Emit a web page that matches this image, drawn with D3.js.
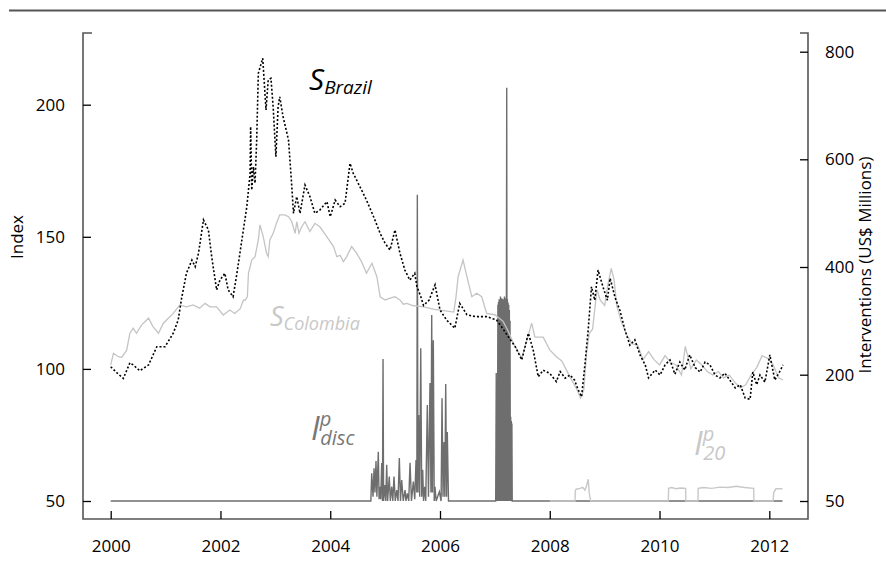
<!DOCTYPE html>
<html><head><meta charset="utf-8">
<script src="https://cdn.jsdelivr.net/npm/d3@7/dist/d3.min.js"></script>
<style>
body{margin:0;background:#fff;}
svg{display:block;font-family:"Open Sans","Noto Sans",sans-serif;}
</style></head>
<body><svg id="c" width="886" height="565"></svg>
<script>
// ---------------- data ----------------
const xTickValues = [2000, 2002, 2004, 2006, 2008, 2010, 2012];
const leftTickValues = [50, 100, 150, 200];
const rightTickValues = [50, 200, 400, 600, 800];
const rightTickLabels = ["50", "200", "400", "600", "800"];

const brazilTimes = [2000.00,2000.11,2000.23,2000.35,2000.41,2000.53,2000.69,2000.84,2000.99,2001.14,2001.23,2001.29,2001.38,2001.48,2001.54,2001.60,2001.69,2001.78,2001.84,2001.93,2001.99,2002.08,2002.14,2002.23,2002.30,2002.39,2002.48,2002.54,2002.55,2002.57,2002.60,2002.63,2002.66,2002.69,2002.77,2002.83,2002.87,2002.92,2002.96,2003.01,2003.05,2003.08,2003.14,2003.24,2003.30,2003.33,2003.39,2003.45,2003.54,2003.63,2003.72,2003.81,2003.94,2004.00,2004.09,2004.18,2004.27,2004.36,2004.42,2004.54,2004.66,2004.79,2004.91,2005.00,2005.09,2005.18,2005.27,2005.36,2005.45,2005.54,2005.58,2005.64,2005.70,2005.80,2005.91,2006.00,2006.12,2006.27,2006.36,2006.49,2006.64,2006.85,2007.03,2007.12,2007.25,2007.37,2007.49,2007.61,2007.70,2007.79,2007.88,2008.00,2008.12,2008.19,2008.28,2008.37,2008.45,2008.52,2008.58,2008.64,2008.70,2008.76,2008.82,2008.88,2008.97,2009.05,2009.10,2009.19,2009.28,2009.37,2009.46,2009.55,2009.65,2009.74,2009.80,2009.92,2010.01,2010.10,2010.19,2010.28,2010.37,2010.46,2010.55,2010.65,2010.74,2010.83,2010.92,2011.01,2011.10,2011.19,2011.28,2011.38,2011.47,2011.56,2011.65,2011.70,2011.77,2011.83,2011.92,2012.01,2012.10,2012.19,2012.25];
const brazilValues = [100.8,98.6,96.4,102.3,101.5,99.3,101.5,108.4,108.4,113.5,118.5,126.5,136.2,141.2,138.7,143.8,156.4,152.6,142.5,129.9,133.6,136.2,129.9,127.3,136.2,148.8,161.4,174,191.7,167.7,176.5,170.3,186.6,211.9,217.6,198,209.4,210,199.2,180.3,199.2,203,195.5,186.6,169,158.9,165.2,158.9,169.6,165.2,158.9,160.1,163.3,157.6,163.9,161.4,162.7,177.8,174,169,163.9,157.6,151.3,147.5,145,152.6,143.8,137.4,133.6,136.2,131.1,128,124,126,131.8,122.3,118.5,115.4,124.8,120.5,119.8,119.8,118.5,116,112,108.4,103.4,113.5,107,97,99.5,98.3,95.2,99,96.5,97.7,95.8,92,89.5,101.5,114.7,131.1,126,137.4,131,126,134.3,127,122,114.7,109,111,105,101.5,96.6,99.6,97.7,101.5,103.4,98,102.6,99.6,105.3,100.5,98.8,102.6,101.5,97.7,96.6,98.4,95.8,92.8,94,89,88.5,98.8,94,97.7,95,105.3,95.8,99,101.5];

const colombiaTimes = [2000.00,2000.05,2000.14,2000.20,2000.29,2000.35,2000.41,2000.47,2000.56,2000.69,2000.77,2000.87,2000.96,2001.05,2001.14,2001.26,2001.38,2001.50,2001.62,2001.72,2001.81,2001.93,2002.05,2002.17,2002.26,2002.36,2002.42,2002.45,2002.49,2002.51,2002.57,2002.63,2002.69,2002.72,2002.78,2002.84,2002.87,2002.90,2002.96,2003.02,2003.08,2003.17,2003.24,2003.30,2003.36,2003.39,2003.43,2003.48,2003.54,2003.63,2003.72,2003.81,2003.94,2004.06,2004.12,2004.18,2004.24,2004.30,2004.39,2004.48,2004.57,2004.66,2004.76,2004.85,2004.91,2005.00,2005.09,2005.18,2005.27,2005.33,2005.40,2005.50,2005.70,2005.90,2006.10,2006.25,2006.29,2006.33,2006.42,2006.52,2006.58,2006.67,2006.76,2006.85,2007.00,2007.15,2007.25,2007.34,2007.49,2007.67,2007.73,2007.88,2008.00,2008.12,2008.22,2008.33,2008.42,2008.50,2008.56,2008.62,2008.67,2008.72,2008.78,2008.86,2008.92,2009.00,2009.06,2009.12,2009.17,2009.22,2009.30,2009.40,2009.50,2009.60,2009.70,2009.80,2009.90,2010.00,2010.10,2010.20,2010.30,2010.40,2010.47,2010.57,2010.67,2010.77,2010.87,2010.97,2011.07,2011.17,2011.27,2011.37,2011.47,2011.57,2011.67,2011.77,2011.87,2011.97,2012.07,2012.17,2012.25];
const colombiaValues = [101.5,105.9,104.6,104.4,107,113.5,115.4,113.5,116.6,119.2,116,113.5,117.3,119.2,121,124.2,123.5,124.2,123,124.8,123.5,123.5,120.4,122.3,121,122.8,126.1,126,127.3,136.2,141.2,142.5,148.8,154.5,150,143.8,142.5,148.8,151.3,155.1,158.3,158.3,157.6,155.7,151.3,155.7,151.3,153.8,155.7,152,155.1,153.8,150,146.3,142.5,143,140.6,142.5,146.3,143.8,140.6,136.2,140,134.9,127.3,126.1,126.8,127.3,126.1,124.5,124.8,124,123.5,122.5,122,121.5,127,134.9,141.2,132.4,127.3,128.6,127.3,121,120.5,118,114,109.7,104,117.3,112,112,107.2,104.6,103,98.5,95,92,89,92,106,113.5,115,130,126,124,132,138,134,124,118,113,109.5,109,103.5,106.5,103.5,101.5,105,102.5,101.5,97.7,108.5,100,103.4,101.5,99,97.7,99,96.6,97.7,95,92.8,94,97.7,100.5,105,104,101.5,96.6,95.8];

// discretionary interventions (US$ millions, right axis; 50 = no intervention)
const discTimes = [2000.00,2004.74,2004.756,2004.78,2004.798,2004.815,2004.834,2004.85,2004.876,2004.89,2004.907,2004.92,2004.938,2004.952,2004.962,2004.972,2004.998,2005.012,2005.029,2005.045,2005.076,2005.095,2005.12,2005.14,2005.162,2005.185,2005.211,2005.235,2005.259,2005.28,2005.302,2005.33,2005.363,2005.38,2005.405,2005.43,2005.454,2005.48,2005.514,2005.54,2005.563,2005.578,2005.587,2005.598,2005.612,2005.63,2005.649,2005.667,2005.685,2005.70,2005.722,2005.74,2005.769,2005.79,2005.818,2005.835,2005.849,2005.862,2005.878,2005.895,2005.909,2005.93,2005.988,2006.02,2006.037,2006.055,2006.073,2006.088,2006.104,2006.12,2006.133,2006.155,
  2007.015,2007.025,2007.03,2007.04,2007.045,2007.055,2007.06,2007.066,2007.072,2007.078,2007.084,2007.09,2007.096,2007.102,2007.108,2007.114,2007.12,2007.126,2007.132,2007.138,2007.144,2007.15,2007.156,2007.162,2007.168,2007.174,2007.18,2007.186,2007.192,2007.198,2007.204,2007.21,2007.216,2007.222,2007.228,2007.234,2007.24,2007.246,2007.252,2007.258,2007.264,2007.27,2007.276,2007.282,2007.288,2007.294,2007.30,2007.305,2007.31,2007.316,2012.24];
const discValues = [50,50,83,55,89,60,97.5,55,108.5,52,67,52,95,50,229,50,69,50,93,50,79,50,67,50,79,50,63,50,101,50,75,50,63,50,59,50,95.5,50,73,52,98.7,60,534,60,152,55,249,55,87,50,67,50,164,55,190,60,311,60,264,50,67,50,61,50,172,55,120,55,189,55,132,50,
  50,203,50,110,50,330,50,335,50,340,50,330,50,345,50,338,50,342,50,336,50,340,50,335,50,345,50,338,50,342,50,336,733,50,340,50,334,50,330,50,320,50,300,50,150,50,145,50,142,50,50];

// rule-based (20th percentile) interventions
const i20Times = [2008.00,2008.46,2008.465,2008.48,2008.55,2008.60,2008.64,2008.67,2008.70,2008.72,2008.745,2008.75,2010.16,2010.165,2010.22,2010.30,2010.38,2010.475,2010.48,2010.70,2010.705,2010.80,2010.95,2011.10,2011.25,2011.40,2011.55,2011.715,2011.72,2012.07,2012.08,2012.12,2012.24];
const i20Values = [50,50,62,64,65,66.3,63,67.8,75.8,59,50,50,50,65,66,64.5,65.5,65,50,50,65,66,65,66.5,66,67.5,66,65,50,50,60,64.5,64.5];

// ---------------- chart ----------------
const svg = d3.select("#c");
const x = d3.scaleLinear().domain([2000, 2012]).range([110.7, 769.3]);
const yL = d3.scaleLinear().domain([50, 200]).range([501, 104.7]);
const yR = d3.scaleLinear().domain([50, 200, 400, 600, 800]).range([501, 374.7, 267, 159.3, 51.7]);

const axL = 83, axR = 808, axB = 519, axT = 33;

// top rule
svg.append("line").attr("x1", 9).attr("x2", 886).attr("y1", 10.5).attr("y2", 10.5)
  .attr("stroke", "#555").attr("stroke-width", 2);

// frame
svg.append("path")
  .attr("d", `M${axL + 9},${axT}H${axL}V${axB}H${axR}V${axT}H${axR - 8}`)
  .attr("fill", "none").attr("stroke", "#555").attr("stroke-width", 1.6);

// series: interventions
const discData = discTimes.map((t, i) => [t, discValues[i]]);
const i20Data = i20Times.map((t, i) => [t, i20Values[i]]);
svg.append("path").datum(discData)
  .attr("d", d3.line().x(d => x(d[0])).y(d => yR(d[1])))
  .attr("fill", "none").attr("stroke", "#6e6e6e").attr("stroke-width", 1.4);
svg.append("path").datum(i20Data)
  .attr("d", d3.line().x(d => x(d[0])).y(d => yR(d[1])))
  .attr("fill", "none").attr("stroke", "#c8c8c8").attr("stroke-width", 1.4);

// series: spreads
const colData = colombiaTimes.map((t, i) => [t, colombiaValues[i]]);
const braData = brazilTimes.map((t, i) => [t, brazilValues[i]]);
svg.append("path").datum(colData)
  .attr("d", d3.line().x(d => x(d[0])).y(d => yL(d[1])))
  .attr("fill", "none").attr("stroke", "#c4c4c4").attr("stroke-width", 1.3);
svg.append("path").datum(braData)
  .attr("d", d3.line().x(d => x(d[0])).y(d => yL(d[1])))
  .attr("fill", "none").attr("stroke", "#000").attr("stroke-width", 1.6)
  .attr("stroke-dasharray", "2,2");

// axes
function styleAxis(g) {
  g.select(".domain").remove();
  g.selectAll(".tick line").attr("stroke", "#000").attr("stroke-width", 1.3);
  g.selectAll(".tick text").attr("fill", "#000").style("font-size", "17px")
    .style("font-family", "'Open Sans','Noto Sans',sans-serif");
}
svg.append("g").attr("transform", `translate(${axL},0)`)
  .call(d3.axisLeft(yL).tickValues(leftTickValues).tickSize(-8).tickPadding(18).tickFormat(d3.format("d")))
  .call(styleAxis);
svg.append("g").attr("transform", `translate(${axR},0)`)
  .call(d3.axisRight(yR).tickValues(rightTickValues).tickSize(-8).tickPadding(17)
    .tickFormat((d, i) => rightTickLabels[i]))
  .call(styleAxis);
svg.append("g").attr("transform", `translate(0,${axB})`)
  .call(d3.axisBottom(x).tickValues(xTickValues).tickSize(-8).tickPadding(21).tickFormat(d3.format("d")))
  .call(styleAxis);

// axis titles
svg.append("text").attr("transform", "translate(23,237) rotate(-90)")
  .attr("text-anchor", "middle").style("font-size", "17px").text("Index");
svg.append("text").attr("transform", "translate(871,265) rotate(-90)")
  .attr("text-anchor", "middle").style("font-size", "17px").text("Interventions (US$ Millions)");

// series labels
function label(xp, yp, main, sub, sup, color, mainSize, subSize) {
  const t = svg.append("text").attr("x", xp).attr("y", yp).attr("fill", color)
    .style("font-style", "italic");
  t.append("tspan").style("font-size", mainSize + "px").text(main);
  if (sup) {
    t.append("tspan").attr("dy", -14).style("font-size", subSize + "px").text(sup);
    t.append("tspan").attr("dx", -11).attr("dy", 19).style("font-size", subSize + "px").text(sub);
  } else {
    t.append("tspan").attr("dy", 4).style("font-size", subSize + "px").text(sub);
  }
}
label(309, 90, "S", "Brazil", null, "#000", 30, 19);
label(270, 326, "S", "Colombia", null, "#c8c8c8", 27, 18);
label(311, 440, "I", "disc", "p", "#777", 32, 20);
label(694, 455, "I", "20", "p", "#c8c8c8", 32, 20);
</script></body></html>
